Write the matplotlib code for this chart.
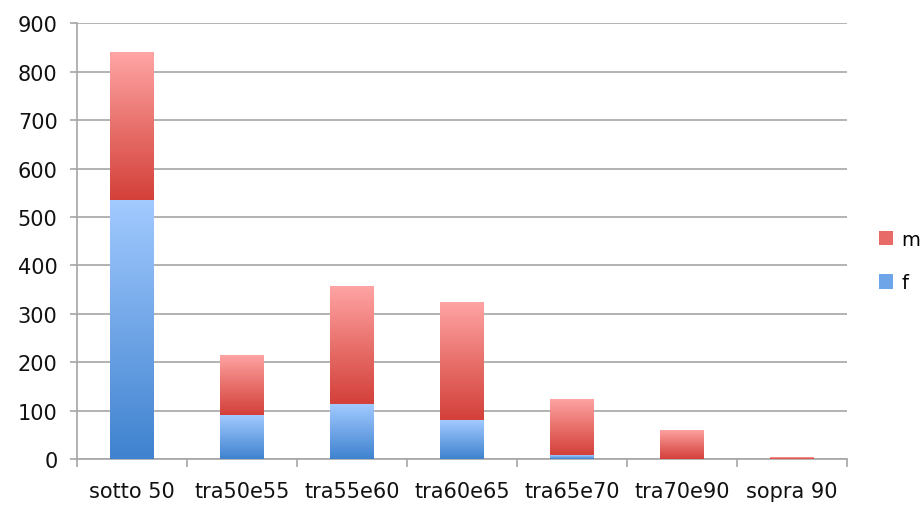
import numpy as np
import matplotlib.pyplot as plt
from matplotlib.colors import LinearSegmentedColormap
from matplotlib.patches import Patch

# Age bands and counts per sex
categories = ['sotto 50', 'tra50e55', 'tra55e60', 'tra60e65', 'tra65e70', 'tra70e90', 'sopra 90']
f_values = [535, 90, 113, 80, 8, 0, 0]
m_values = [305, 125, 245, 245, 116, 60, 4]

blue_map = LinearSegmentedColormap.from_list('blue', ['#3f82cf', '#a2caff'])
red_map = LinearSegmentedColormap.from_list('red', ['#d4403a', '#e8716c', '#ffa5a5'])

plt.rcParams['font.family'] = ['DejaVu Sans']
fig = plt.figure(figsize=(9.22, 5.06), dpi=100)
ax = fig.add_axes([0.0835, 0.091, 0.835, 0.861])

x = np.arange(len(categories))
width = 0.4
ramp = np.linspace(0, 1, 256).reshape(-1, 1)


def gradient_bars(bars, cmap):
    # fill each bar with a vertical ramp, dark at the bottom
    for bar in bars:
        h = bar.get_height()
        if h <= 0:
            continue
        x0, y0 = bar.get_x(), bar.get_y()
        bar.set_facecolor('none')
        im = ax.imshow(ramp, cmap=cmap, origin='lower', aspect='auto',
                       extent=[x0, x0 + bar.get_width(), y0, y0 + h], zorder=3)
        im.set_clip_path(bar)


f_bars = ax.bar(x, f_values, width, color='#6ea4e8', linewidth=0, zorder=3)
m_bars = ax.bar(x, m_values, width, bottom=f_values, color='#e86b68', linewidth=0, zorder=3)
gradient_bars(f_bars, blue_map)
gradient_bars(m_bars, red_map)

ax.set_xlim(-0.5, len(categories) - 0.5)
ax.set_ylim(0, 900)
ax.set_yticks(range(0, 901, 100))
ax.yaxis.grid(True, color='#a6a6a6', linewidth=1.2, zorder=0)
ax.set_axisbelow(True)

ax.set_xticks(x)
ax.set_xticklabels(categories)
ax.set_xticks(np.arange(-0.5, len(categories)), minor=True)
ax.tick_params(axis='x', which='major', length=0, pad=16, labelsize=15, labelcolor='#111111')
ax.tick_params(axis='x', which='minor', length=6, width=1.2, color='#a6a6a6')
ax.tick_params(axis='y', length=5, width=1.2, color='#a6a6a6', pad=9, labelsize=15,
               labelcolor='#111111')

for side in ['top', 'right']:
    ax.spines[side].set_visible(False)
for side in ['left', 'bottom']:
    ax.spines[side].set_color('#a6a6a6')
    ax.spines[side].set_linewidth(1.2)

handles = [Patch(facecolor='#e86b68', label='m'), Patch(facecolor='#6ea4e8', label='f')]
fig.legend(handles=handles, loc='center left', bbox_to_anchor=(0.953, 0.482),
           frameon=False, fontsize=14, handlelength=0.75, handleheight=0.75,
           handletextpad=0.4, labelspacing=1.25, borderpad=0, borderaxespad=0)

fig.savefig('out.png', dpi=100)
